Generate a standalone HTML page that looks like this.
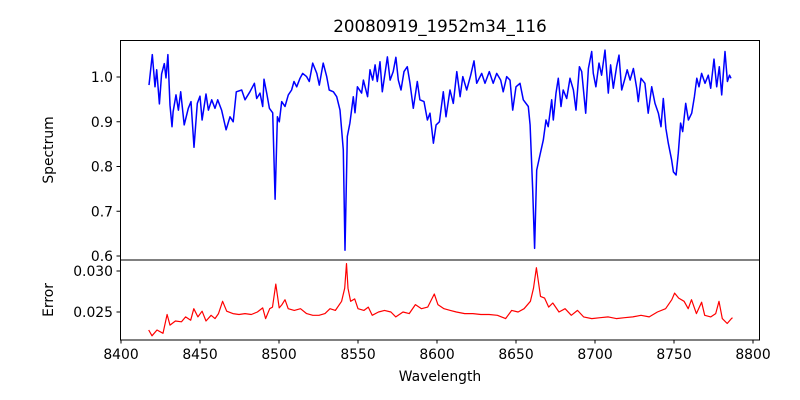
<!DOCTYPE html>
<html><head><meta charset="utf-8"><style>
body{margin:0;background:#fff;}
svg{display:block;font-family:"DejaVu Sans","Liberation Sans",sans-serif;}
</style></head><body>
<svg id="chart" width="800" height="400" viewBox="0 0 800 400">
<rect width="800" height="400" fill="#fff"/>
<text x="440" y="32" text-anchor="middle" font-size="16.7">20080919_1952m34_116</text>
<text transform="translate(53,150) rotate(-90)" text-anchor="middle" font-size="13.9">Spectrum</text>
<text transform="translate(53,300) rotate(-90)" text-anchor="middle" font-size="13.9">Error</text>
<text x="440" y="381" text-anchor="middle" font-size="13.9">Wavelength</text>
<g id="topPanel"></g>
<g id="botPanel"></g>
</svg>
<script>
const specW=[8417.7,8419.8,8421.5,8422.6,8424.3,8425.7,8427.4,8428.5,8429.7,8431,8432.3,8433,8434.8,8436.3,8437.8,8440,8442.6,8444.3,8446.2,8448.3,8450,8451.3,8453.8,8455.3,8457.4,8459.5,8461.2,8463.7,8466.5,8469,8471,8473,8476.4,8478.5,8481.6,8484.4,8485.9,8488,8489.7,8490.5,8492.2,8493.9,8496,8497.5,8499,8500.2,8501.7,8503.8,8505.9,8508,8509.5,8511.2,8513.3,8515,8517.5,8519.2,8521.3,8523.9,8525.5,8528,8530.2,8531.8,8534.4,8536.5,8538.6,8540.7,8541.8,8543.2,8544.9,8547,8548.1,8549.6,8552.3,8553.4,8556.1,8557.6,8559.3,8560.8,8562.2,8563.9,8565.4,8567.1,8568.6,8570.3,8572.3,8574,8575.5,8577.2,8579.1,8581.2,8582.9,8585,8587.5,8589.2,8591.8,8593.9,8595.6,8597.7,8599.4,8601.5,8604,8605.7,8608.2,8610.3,8612.5,8614.6,8616.3,8618.8,8621.3,8623.4,8625.1,8628.3,8630.4,8633.1,8635.6,8637.8,8640.3,8641.9,8644.1,8646.2,8647.9,8650,8652.5,8654.6,8657.8,8658.9,8660.6,8661.8,8663.1,8665.2,8667.3,8669,8670.4,8672.6,8673.6,8675.3,8676.8,8678.5,8679.9,8682.1,8684.2,8686.3,8688,8690.1,8691.6,8694.1,8695.8,8697.9,8698.9,8700.6,8702.5,8704.2,8706.3,8708.4,8709.9,8711.6,8713.7,8715.2,8716.9,8719,8720.4,8722.2,8724.3,8726.4,8727.4,8729.1,8731.6,8733.7,8735.9,8738,8740.1,8741.8,8743.2,8744.9,8746.4,8748.5,8749.6,8751.3,8752.7,8754.2,8755.5,8757.4,8759.1,8761.2,8762.9,8764.4,8765.8,8767.5,8769.6,8771.7,8773.2,8775.3,8777,8778.7,8780.2,8782.3,8783.8,8785.1,8786.1];
const specV=[0.982,1.05,0.978,1.016,0.94,1.007,1.03,0.998,1.05,0.937,0.889,0.922,0.96,0.926,0.967,0.893,0.93,0.945,0.843,0.941,0.957,0.904,0.962,0.926,0.949,0.93,0.949,0.926,0.882,0.911,0.9,0.967,0.971,0.949,0.967,0.986,0.952,0.964,0.934,0.995,0.964,0.93,0.92,0.727,0.911,0.9,0.945,0.934,0.96,0.971,0.99,0.978,0.997,1.008,1.001,0.99,1.031,1.008,0.982,1.031,1.001,0.971,0.967,0.956,0.926,0.837,0.613,0.867,0.897,0.956,0.92,0.978,0.964,0.993,0.956,1.016,0.993,1.027,0.99,1.034,0.967,1.008,1.045,0.993,1.012,1.044,0.993,0.971,1.012,1.023,0.986,0.93,0.99,0.949,0.945,0.904,0.919,0.852,0.893,0.9,0.967,0.911,0.971,0.941,1.012,0.956,1.001,0.971,1.004,1.036,0.986,1.008,0.986,1.012,0.986,1.008,0.993,0.967,1.001,0.993,0.926,0.978,0.986,0.949,0.934,0.893,0.747,0.617,0.792,0.826,0.859,0.904,0.889,0.949,0.904,0.964,0.997,0.934,0.971,0.952,0.997,0.971,0.926,1.023,1.012,0.919,1.019,1.057,1.008,0.978,1.031,1.004,1.06,0.964,1.027,0.975,1.023,1.049,0.971,0.997,1.016,0.993,1.019,0.975,0.945,0.997,0.986,0.919,0.978,0.941,0.919,0.889,0.952,0.885,0.852,0.815,0.788,0.781,0.83,0.897,0.878,0.941,0.904,0.919,0.956,0.997,0.978,1.008,0.986,1.004,0.975,1.04,0.978,1.023,0.96,1.057,0.99,1.004,0.997];
const errW=[8417.5,8419.6,8422.8,8426.6,8429.2,8431,8434.4,8438.3,8440.9,8444.1,8446.1,8448.7,8451.3,8453.8,8457,8459.5,8461.7,8464.3,8466.9,8470.8,8474.7,8478.5,8482.5,8486.3,8489.7,8491.5,8494.1,8495.9,8498,8500.1,8501.9,8503.8,8505.8,8509.7,8513.6,8517.5,8521.4,8525.3,8529.1,8532.3,8535.7,8539.6,8541.6,8542.7,8543.7,8545.3,8547.9,8550,8553.8,8556.5,8559,8563,8566.8,8570.8,8573.9,8578.5,8582.4,8586.3,8590.2,8594.1,8598.3,8600.6,8604.4,8608.4,8612.3,8617.5,8622.7,8627.8,8633,8638.2,8643.4,8647.3,8651.3,8655.1,8659.1,8661.1,8662.9,8664.2,8665.5,8668.1,8670.7,8673.3,8677.2,8681.1,8685,8688.9,8692.8,8698,8703.2,8708.4,8713.5,8718.7,8723.9,8729.1,8734.3,8739.5,8744.7,8748.6,8750.4,8753,8756.4,8759,8761.1,8764.2,8767.5,8769.4,8773.3,8776.4,8778.5,8780.6,8783.7,8786.3,8787];
const errV=[0.0228,0.0221,0.0228,0.0224,0.0247,0.0234,0.0239,0.0238,0.0244,0.0240,0.0254,0.0244,0.0251,0.0239,0.0246,0.0242,0.0248,0.0263,0.0251,0.0248,0.0247,0.0248,0.0247,0.0250,0.0255,0.0242,0.0254,0.0256,0.0284,0.0255,0.0259,0.0265,0.0254,0.0252,0.0254,0.0248,0.0246,0.0246,0.0248,0.0254,0.0252,0.0263,0.0279,0.0309,0.0279,0.0263,0.0266,0.0254,0.0252,0.0256,0.0246,0.0250,0.0252,0.0250,0.0244,0.0250,0.0248,0.0259,0.0254,0.0256,0.0272,0.0259,0.0254,0.0252,0.0250,0.0248,0.0248,0.0247,0.0247,0.0246,0.0242,0.0252,0.0250,0.0254,0.0263,0.0279,0.0304,0.0287,0.0269,0.0267,0.0256,0.0261,0.0250,0.0254,0.0246,0.0252,0.0244,0.0242,0.0243,0.0244,0.0242,0.0243,0.0244,0.0246,0.0244,0.0250,0.0254,0.0265,0.0273,0.0267,0.0263,0.0254,0.0265,0.0248,0.0262,0.0246,0.0244,0.0248,0.0263,0.0242,0.0236,0.0242,0.0243];
const xTicks=[8400,8450,8500,8550,8600,8650,8700,8750,8800];
const specTicks=[0.6,0.7,0.8,0.9,1.0];
const errTicks=[0.025,0.030];

const NS='http://www.w3.org/2000/svg';
const L=120,R=760;
const xs=w=>121+(w-8400)*1.58;
const ys=v=>77-(v-1.0)*447.5;
const ye=v=>312-(v-0.025)/0.005*41;
function mk(parent,tag,attrs){const e=document.createElementNS(NS,tag);for(const k in attrs)e.setAttribute(k,attrs[k]);parent.appendChild(e);return e;}
const gTop=document.getElementById('topPanel'),gBot=document.getElementById('botPanel');

let d='';specW.forEach((w,i)=>{d+=(i?'L':'M')+xs(w).toFixed(1)+','+ys(specV[i]).toFixed(1);});
const p1=mk(gTop,'path',{d:d,fill:'none',stroke:'#0000ff','stroke-width':1.5,'stroke-linejoin':'round'});


d='';errW.forEach((w,i)=>{d+=(i?'L':'M')+xs(w).toFixed(1)+','+ye(errV[i]).toFixed(1);});
const p2=mk(gBot,'path',{d:d,fill:'none',stroke:'#ff0000','stroke-width':1.2,'stroke-linejoin':'round'});



const f1=mk(gTop,'rect',{x:L+.5,y:40.5,width:R-L-1,height:219.5,fill:'none',stroke:'#000','stroke-width':1});


const f2=mk(gBot,'rect',{x:L+.5,y:260,width:R-L-1,height:80,fill:'none',stroke:'#000','stroke-width':1});



specTicks.forEach(t=>{const y=ys(t);
 mk(gTop,'line',{x1:L-3.5,x2:L,y1:y,y2:y,stroke:'#000'});
 const tx=mk(gTop,'text',{x:L-7,y:y+5,'text-anchor':'end','font-size':13.9});tx.textContent=t.toFixed(1);
 
 });
errTicks.forEach(t=>{const y=ye(t);
 mk(gBot,'line',{x1:L-3.5,x2:L,y1:y,y2:y,stroke:'#000'});
 const tx=mk(gBot,'text',{x:L-7,y:y+5,'text-anchor':'end','font-size':13.9});tx.textContent=t.toFixed(3);
 
 });
xTicks.forEach(t=>{const x=xs(t);
 mk(gBot,'line',{x1:x,x2:x,y1:340,y2:343.5,stroke:'#000'});
 const tx=mk(gBot,'text',{x:x,y:359,'text-anchor':'middle','font-size':13.9});tx.textContent=t;
 
 });
</script>
</body></html>
